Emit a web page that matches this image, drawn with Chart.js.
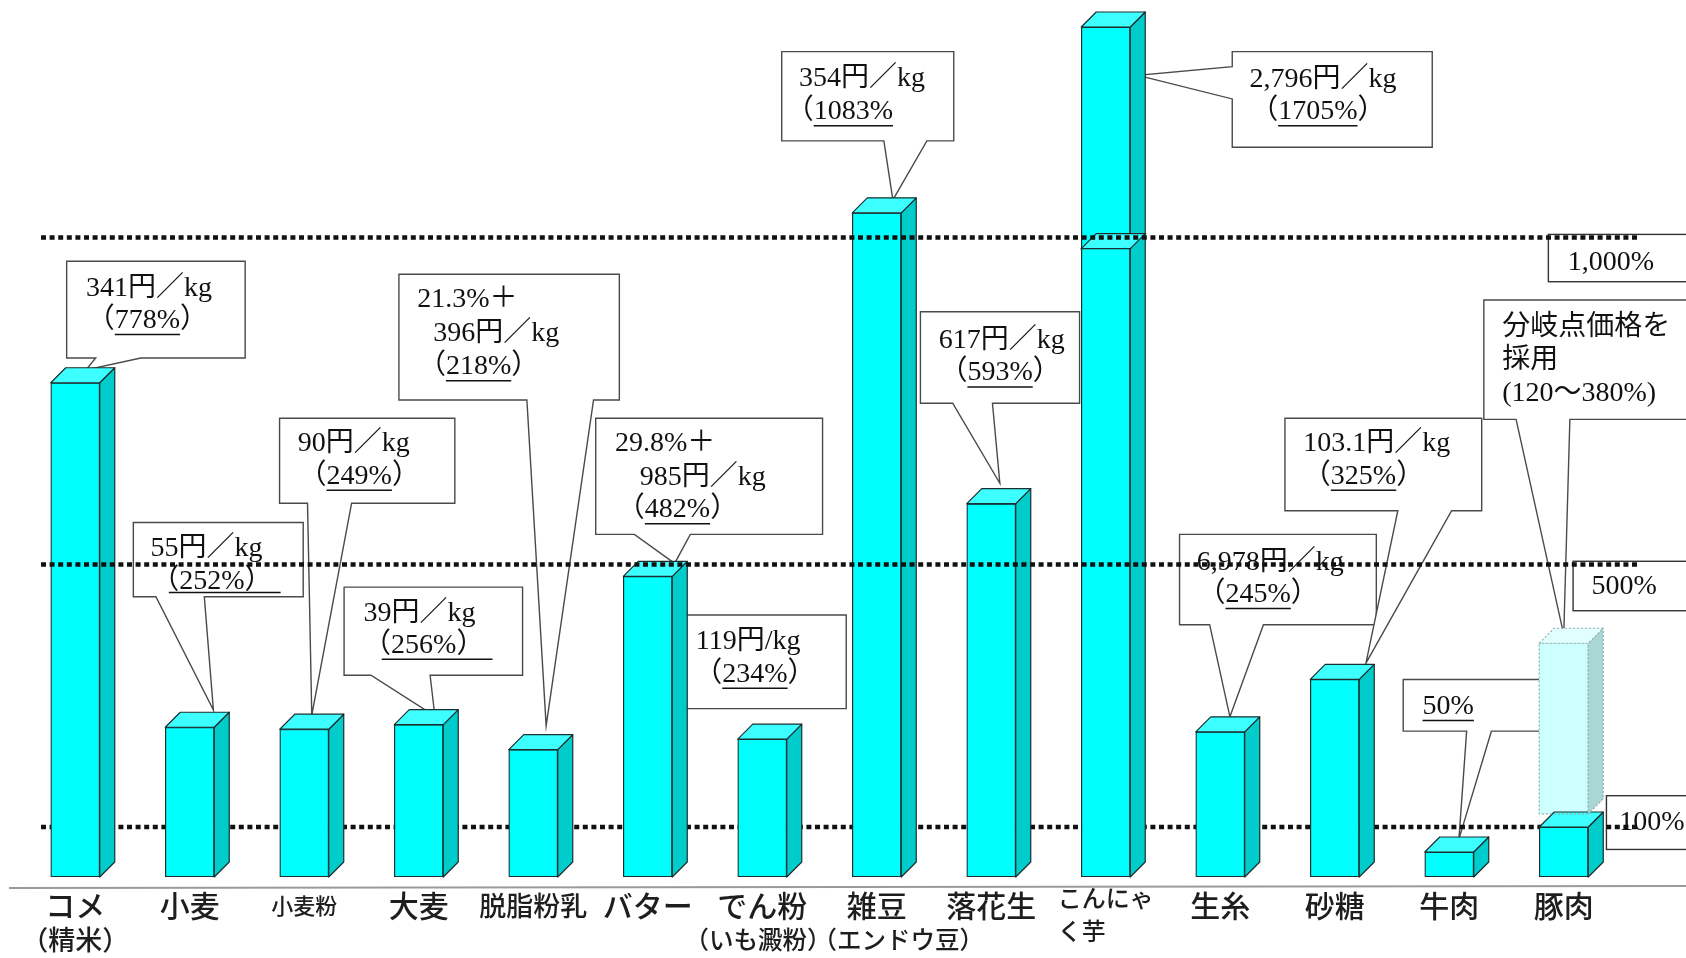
<!DOCTYPE html>
<html><head><meta charset="utf-8">
<script src="https://cdn.jsdelivr.net/npm/chart.js@4.4.1/dist/chart.umd.min.js"></script>
<style>html,body{margin:0;padding:0;background:#fff;}canvas{display:block;}</style>
</head><body>
<canvas id="c" width="1686" height="958"></canvas>
<script>
// ===== data =====
const categories = ['コメ','小麦','小麦粉','大麦','脱脂粉乳','バター','でん粉','雑豆','落花生','こんにゃく芋','生糸','砂糖','牛肉','豚肉'];
const categoryLines = [['コメ','（精米）'],['小麦'],['小麦粉'],['大麦'],['脱脂粉乳'],['バター'],['でん粉','（いも澱粉）'],['雑豆','（エンドウ豆）'],['落花生'],['こんにゃ','く芋'],['生糸'],['砂糖'],['牛肉'],['豚肉']];
const tariffRate = [778, 252, 249, 256, 218, 482, 234, 1083, 593, 1705, 245, 325, 50, 100]; // 税率換算 %
const porkGateRange = [120, 380]; // 分岐点価格 %
const dutyLines = [['341円／kg'],['55円／kg'],['90円／kg'],['39円／kg'],['21.3%＋','396円／kg'],['29.8%＋','985円／kg'],['119円/kg'],['354円／kg'],['617円／kg'],['2,796円／kg'],['6,978円／kg'],['103.1円／kg'],[],['分岐点価格を','採用']];
const refLevels = [100, 500, 1000];
const refLabels = ['100%', '500%', '1,000%'];

// ===== layout / style (reference pixel space 1568 wide, scaled by K) =====
const K = 1686 / 1568;
const DX = 15, DY = 15;
const BOX_FONT = '28px "Liberation Serif", "Noto Sans CJK JP"';
const LBL_FONT = (s) => '500 ' + s + 'px "Noto Sans CJK JP"';
const callouts = [
  {i:0, box:[62,243,166,90], base:[89,131], tip:[10,-12], lines:[[18,25],[33,55]]},
  {i:1, box:[124,486,158,69], base:[145,190], tip:[22,-16], lines:[[16,24],[31,55]], wideUL:[33,137,65]},
  {i:2, box:[260,389,163,79], base:[286,327], tip:[7,-13], lines:[[17,24],[32,54]]},
  {i:3, box:[320,546,166,82], base:[345,400], tip:[15,-8], lines:[[18,25],[32,54]], wideUL:[35,138,67]},
  {i:4, box:[371,255,205,117], base:[490,552], tip:[12,-22], lines:[[17,24],[32,55],[32,86]]},
  {i:5, box:[554,389,211,108], base:[590,642], tip:[25,-12], lines:[[18,24],[41,55],[34,85]]},
  {i:6, box:[628,572,159,87], base:null, lines:[[19,25],[32,55]]},
  {i:7, box:[727,48,160,83], base:[822,862], tip:[15,-12], lines:[[16,25],[18,56]], noClose:true},
  {i:8, box:[856,290,148,85], base:[886,923], tip:[8,-19], lines:[[17,27],[32,57]]},
  {i:9, box:[1146,48,186,89], side:'left', base:[62,92], tip:[30,45], lines:[[16,26],[31,56]]},
  {i:10, box:[1097,497,183,84], base:[1125,1175], tip:[9,-14], lines:[[16,26],[31,56]]},
  {i:11, box:[1195,389,183,86], base:[1300,1350], tip:[29,-15], lines:[[17,24],[31,54]]},
  {i:12, box:[1305,632,150,48], base:[1364,1387], tip:[9,-12], lines:[[18,25]], bare:true},
  {i:13, box:[1380,279,220,111], base:[1410,1460], tip:[0,-8], ghost:true, lines:[[17,26],[17,56],[17,87]], range:true}
];
const levelBoxes = {1000:[1440,218,300,44,18,26], 500:[1463,522,300,46,17,24], 100:[1494,740,300,50,12,25]};
const labelStyle = {2:{size:22}, 4:{size:27}, 9:{size:24, align:'left', y1:898, y2:931}};
const subDx = {0:0, 6:-4, 7:20};
const subSize = {0:27, 6:24.5, 7:24.5};

// ===== broken (piecewise linear) value axis =====
const Y_V = [0, 100, 500, 1000, 1705];
const Y_D = [0, 50, 312.5, 639.4, 850];
function interp(v, xs, ys){ let i = 1; while (i < xs.length - 1 && v > xs[i]) i++; const t = (v - xs[i-1]) / (xs[i] - xs[i-1]); return ys[i-1] + t * (ys[i] - ys[i-1]); }
class BrokenLinearScale extends Chart.LinearScale {
  getPixelForValue(v){ if (v === null || v === undefined || isNaN(v)) return super.getPixelForValue(v); return super.getPixelForValue(interp(v, Y_V, Y_D)); }
  getValueForPixel(p){ return interp(super.getValueForPixel(p), Y_D, Y_V); }
}
BrokenLinearScale.id = 'brokenLinear';
BrokenLinearScale.defaults = {};
Chart.register(BrokenLinearScale);

function faces(ctx, x0, x1, yT, yB, top, side, stroke, dash){
  ctx.save(); ctx.lineWidth = 1.2; ctx.strokeStyle = stroke; ctx.lineJoin = 'round';
  if (dash) ctx.setLineDash(dash);
  ctx.beginPath(); ctx.moveTo(x1,yT); ctx.lineTo(x1+DX,yT-DY); ctx.lineTo(x1+DX,yB-DY); ctx.lineTo(x1,yB); ctx.closePath();
  ctx.fillStyle = side; ctx.fill(); ctx.stroke();
  ctx.beginPath(); ctx.moveTo(x0,yT); ctx.lineTo(x0+DX,yT-DY); ctx.lineTo(x1+DX,yT-DY); ctx.lineTo(x1,yT); ctx.closePath();
  ctx.fillStyle = top; ctx.fill(); ctx.stroke();
  ctx.restore();
}
function dotted(ctx, y){
  ctx.save(); ctx.strokeStyle = '#111'; ctx.lineWidth = 4.5; ctx.setLineDash([5, 3.6]);
  ctx.beginPath(); ctx.moveTo(41, y); ctx.lineTo(1640, y); ctx.stroke(); ctx.restore();
}
function rateSegments(c){
  const i = c.i;
  if (c.range) return [{t:'(' + porkGateRange[0] + '～' + porkGateRange[1] + '%)'}];
  if (c.bare) return [{t: tariffRate[i] + '%', u:true}];
  const segs = [{t:'（'}, {t: tariffRate[i] + '%', u: !c.wideUL}];
  if (!c.noClose) segs.push({t:'）'});
  return segs;
}
function drawTextLine(ctx, segs, x, y){
  ctx.font = BOX_FONT; ctx.textBaseline = 'middle'; ctx.textAlign = 'left'; ctx.fillStyle = '#111';
  if (segs[0].t.startsWith('（')) x -= 0.55 * 28;
  segs.forEach(s => {
    const w = ctx.measureText(s.t).width;
    ctx.fillText(s.t, x, y);
    if (s.u){ ctx.save(); ctx.strokeStyle = '#111'; ctx.lineWidth = 1.5; ctx.beginPath(); ctx.moveTo(x, y + 14); ctx.lineTo(x + w, y + 14); ctx.stroke(); ctx.restore(); }
    x += w;
  });
}
function barTip(chart, c){
  const el = chart.getDatasetMeta(c.ghost ? 1 : 0).data[c.i];
  return {x: el.x + c.tip[0]*K, y: el.y + c.tip[1]*K};
}
function drawCallout(chart, c){
  const ctx = chart.ctx;
  const [bx,by,bw,bh] = c.box.map(v => v*K);
  ctx.save(); ctx.beginPath();
  if (!c.base){ ctx.rect(bx,by,bw,bh); }
  else {
    const t = barTip(chart, c);
    const [a,b] = c.base.map(v => v*K);
    if (c.side === 'left'){
      ctx.moveTo(bx,by); ctx.lineTo(bx+bw,by); ctx.lineTo(bx+bw,by+bh); ctx.lineTo(bx,by+bh); ctx.lineTo(bx,b); ctx.lineTo(t.x,t.y); ctx.lineTo(bx,a); ctx.closePath();
    } else {
      ctx.moveTo(bx,by); ctx.lineTo(bx+bw,by); ctx.lineTo(bx+bw,by+bh); ctx.lineTo(b,by+bh); ctx.lineTo(t.x,t.y); ctx.lineTo(a,by+bh); ctx.lineTo(bx,by+bh); ctx.closePath();
    }
  }
  ctx.fillStyle = '#fff'; ctx.fill(); ctx.strokeStyle = '#4a4a4a'; ctx.lineWidth = 1.4; ctx.stroke();
  const texts = dutyLines[c.i].map(s => [{t:s}]).concat([rateSegments(c)]);
  texts.forEach((segs, k) => {
    const p = c.lines[k]; if (!p) return;
    drawTextLine(ctx, segs, bx + p[0]*K, by + p[1]*K);
  });
  if (c.wideUL){ ctx.strokeStyle = '#111'; ctx.lineWidth = 1.5; ctx.beginPath(); ctx.moveTo(bx + c.wideUL[0]*K, by + c.wideUL[2]*K); ctx.lineTo(bx + c.wideUL[1]*K, by + c.wideUL[2]*K); ctx.stroke(); }
  ctx.restore();
}

const decor = {
  id: 'decor',
  beforeDatasetsDraw(chart){
    const {ctx, scales:{y}} = chart;
    ctx.save(); ctx.strokeStyle = '#9a9a9a'; ctx.lineWidth = 2; ctx.beginPath(); ctx.moveTo(9, 888); ctx.lineTo(1686, 886); ctx.stroke(); ctx.restore();
    callouts.forEach(c => drawCallout(chart, c));
    refLevels.forEach((v, k) => {
      const b = levelBoxes[v];
      ctx.save(); ctx.fillStyle = '#fff'; ctx.strokeStyle = '#333'; ctx.lineWidth = 1.4;
      ctx.fillRect(b[0]*K, b[1]*K, b[2]*K, b[3]*K); ctx.strokeRect(b[0]*K, b[1]*K, b[2]*K, b[3]*K);
      ctx.font = BOX_FONT; ctx.fillStyle = '#111'; ctx.textBaseline = 'middle';
      ctx.fillText(refLabels[k], (b[0]+b[4])*K, (b[1]+b[5])*K); ctx.restore();
    });
    dotted(ctx, y.getPixelForValue(refLevels[0]));
  },
  afterDatasetsDraw(chart){
    const {ctx, scales:{x, y}} = chart;
    const meta = chart.getDatasetMeta(0);
    meta.data.forEach((el) => {
      const x0 = el.x - el.width/2, x1 = el.x + el.width/2;
      faces(ctx, x0, x1, el.y, el.base, '#3dffff', '#00cccc', '#1c2e2e');
    });
    const g = chart.getDatasetMeta(1).data[13];
    if (g){
      const x0 = g.x - g.width/2, x1 = g.x + g.width/2;
      ctx.save(); ctx.strokeStyle = '#8fb0b0'; ctx.lineWidth = 1.2; ctx.setLineDash([2,2]); ctx.strokeRect(x0, g.y, x1-x0, g.base-g.y); ctx.restore();
      faces(ctx, x0, x1, g.y, g.base, '#e2ffff', '#aad6d6', '#8fb0b0', [2,2]);
    }
    const kb = meta.data[9];
    const yb = y.getPixelForValue(1000) + 11;
    const kx0 = kb.x - kb.width/2, kx1 = kb.x + kb.width/2;
    ctx.save(); ctx.fillStyle = '#3dffff'; ctx.strokeStyle = '#1c2e2e'; ctx.lineWidth = 1.2;
    ctx.beginPath(); ctx.moveTo(kx0, yb); ctx.lineTo(kx1, yb); ctx.lineTo(kx1+DX, yb-DY); ctx.lineTo(kx0+DX, yb-DY); ctx.closePath(); ctx.fill(); ctx.stroke(); ctx.restore();
    dotted(ctx, y.getPixelForValue(refLevels[1]));
    dotted(ctx, y.getPixelForValue(refLevels[2]));
    ctx.save(); ctx.fillStyle = '#1e1e1e'; ctx.textBaseline = 'middle';
    categoryLines.forEach((lines, i) => {
      const st = labelStyle[i] || {};
      const size = st.size || 30;
      const cx = x.getPixelForValue(i);
      ctx.font = LBL_FONT(size);
      if (st.align === 'left'){
        const w = ctx.measureText(lines[0]).width; const lx = cx - w/2;
        ctx.textAlign = 'left'; ctx.fillText(lines[0], lx, st.y1); ctx.fillText(lines[1], lx, st.y2);
      } else {
        ctx.textAlign = 'center'; ctx.fillText(lines[0], cx, 906);
        if (lines[1]){ ctx.font = LBL_FONT(subSize[i] || 24); ctx.fillText(lines[1], cx + (subDx[i]||0)*K, 940); }
      }
    });
    ctx.restore();
  }
};

new Chart(document.getElementById('c'), {
  type: 'bar',
  data: {
    labels: categories,
    datasets: [
      {label: '関税率', data: tariffRate, backgroundColor: '#00ffff', borderColor: '#1c2e2e', borderWidth: 1.3, borderSkipped: false, grouped: false, barThickness: 49},
      {label: '分岐点価格', data: categories.map((c, i) => c === '豚肉' ? porkGateRange : null), backgroundColor: '#cdffff', borderWidth: 0, grouped: false, barThickness: 49}
    ]
  },
  options: {
    responsive: false, animation: false, devicePixelRatio: 1,
    layout: {padding: {left: 18, right: 65, top: 10, bottom: 81}},
    plugins: {legend: {display: false}, tooltip: {enabled: false}},
    scales: {
      x: {type: 'category', display: false, offset: true, grid: {display: false}},
      y: {type: 'brokenLinear', display: false, min: 0, max: 867}
    }
  },
  plugins: [decor]
});
</script>
</body></html>
